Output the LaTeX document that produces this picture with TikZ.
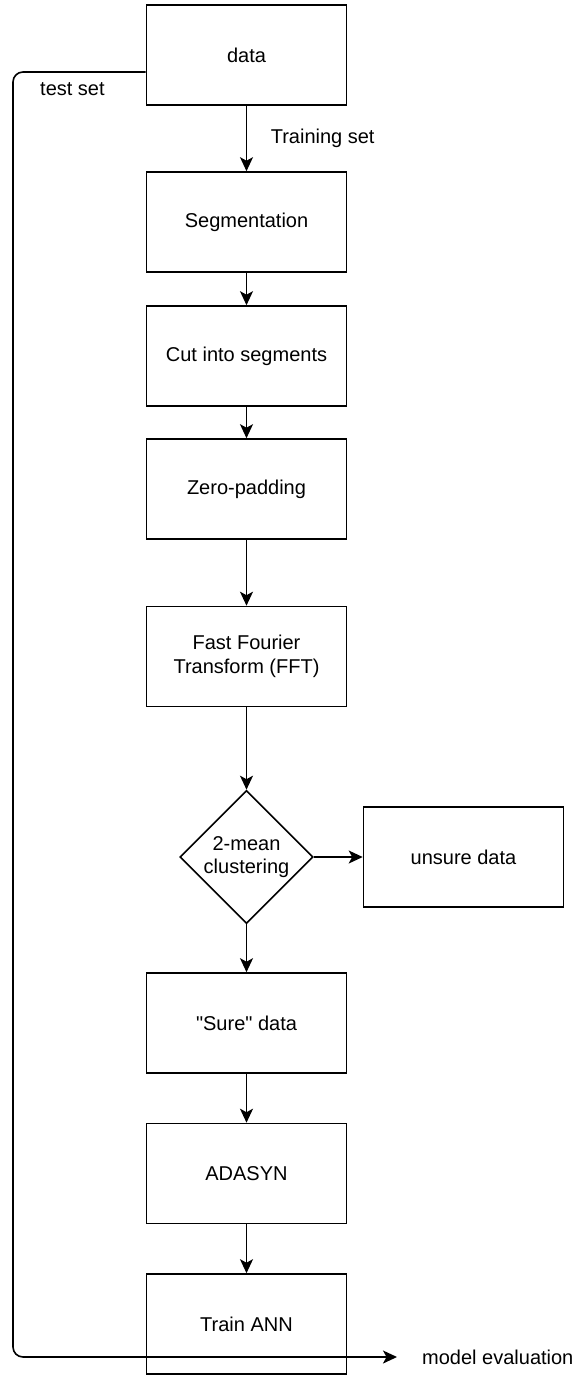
\documentclass[tikz,border=0pt]{standalone}
\usepackage{fontspec}
\setmainfont{Liberation Sans}[Ligatures=TeXOff]
\usetikzlibrary{shapes.geometric,arrows.meta}

\begin{document}
\begin{tikzpicture}
[x=1pt,y=-1pt,
  boxDecorate/.style={shape=rectangle,draw,line width=1.6pt,minimum width=200pt,minimum height=100pt,inner sep=0pt,align=center,font=\fontsize{20}{24}\selectfont},%
  diamondDecorate/.style={shape=diamond,draw,line width=1.6pt,minimum width=133pt,minimum height=133pt,inner sep=0pt,align=center,font=\fontsize{20}{23}\selectfont},%
  textDecorate/.style={inner sep=0pt,font=\fontsize{20}{24}\selectfont},%
  lineDecorate/.style={-{Stealth[length=14pt,width=13pt,inset=3.5pt]},line width=1.6pt}]
\useasboundingbox (0,0) rectangle (573,1376);
%% boxes of the main column
\foreach \nodename/\y/\txt in {data/55/data, seg/222/Segmentation, cut/356/Cut into segments,
  zero/489/Zero-padding, fft/656.5/{Fast Fourier\\Transform (FFT)}, sure/1023/"Sure" data,
  adasyn/1173.5/ADASYN, ann/1324/Train ANN}
{
  \node (\nodename) at (246.5,\y) [boxDecorate] {\txt};
}
%% decision and side box
\node (cluster) at (246.5,857) [diamondDecorate] {2-mean\\clustering};
\node (unsure) at (463.5,857) [boxDecorate] {unsure data};
%% free texts
\node (testlabel) at (40,89) [textDecorate,anchor=west] {test set};
\node (eval) at (422,1357) [textDecorate,anchor=west] {model evaluation};
\coordinate (corner) at (13,1357);
%% edges
\path (data) edge[lineDecorate] node[textDecorate,right=23.5pt] {Training set} (seg);
\path
\foreach \startnode/\endnode in {seg/cut, cut/zero, zero/fft, fft/cluster, cluster/sure, sure/adasyn, adasyn/ann}
{
  (\startnode) edge[lineDecorate] (\endnode)
};
\draw[lineDecorate] (cluster.east) -- (unsure.west);
\draw[lineDecorate,rounded corners=10pt] ([yshift=-17pt]data.west) -| (corner) -- ([xshift=-25pt]eval.west);
\end{tikzpicture}
\end{document}
